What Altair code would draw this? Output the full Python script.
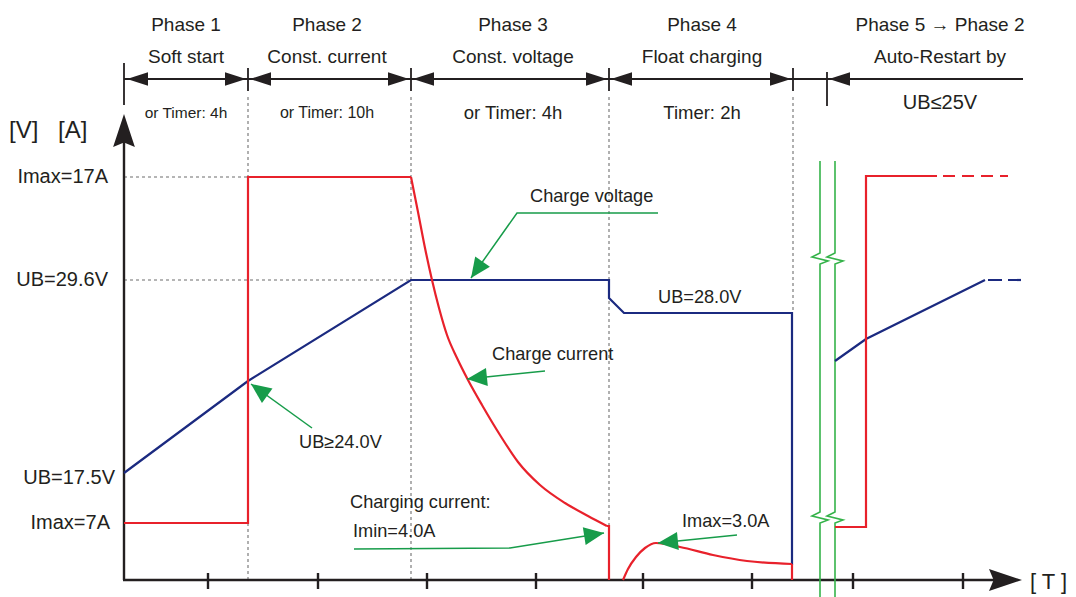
import altair as alt
import numpy as np
import pandas as pd

W, H = 1076, 597
FONT = "Liberation Sans Narrow, Arial Narrow, Liberation Sans, sans-serif"
INK = "#231f20"
RED = "#e8212b"
BLUE = "#1b2a80"
GREEN = "#179c4a"
BREAK_GREEN = "#35b34a"
GRID = "#9d9d9d"

# ---------------- data (diagram units = px grid) ----------------
# charge current (red)
cur_step_x = [124, 248, 248, 411]
cur_step_y = [523, 523, 177, 177]
cur_decay_x = [411, 418, 425, 432, 439, 447, 457, 468, 482, 500, 518, 540, 565, 588, 607]
cur_decay_y = [177, 212, 248, 280, 308, 335, 358, 380, 405, 435, 462, 485, 503, 516, 526]
cur_drop_x = [607, 609, 609]
cur_drop_y = [526, 526, 580]
cur_float_x = [623, 628, 636, 645, 656, 680, 713, 747, 792]
cur_float_y = [580, 569, 557, 548, 543, 547, 555, 561, 564]
cur_float_end_x = [792, 792]
cur_float_end_y = [564, 580]
cur_restart_x = [835, 866, 866, 937]
cur_restart_y = [527, 527, 176, 176]
cur_cont_x = [943, 1008]
cur_cont_y = [176, 176]

# charge voltage (blue)
volt_x = [124, 248, 411, 609, 609, 624, 792, 792]
volt_y = [473, 381, 280, 280, 298, 313, 313, 565]
volt_restart_x = [835, 866, 985]
volt_restart_y = [361, 339, 280]
volt_cont_x = [988, 1021]
volt_cont_y = [280, 280]

# phase header
phase_x = [186, 327, 513, 702, 940]
phase_title = ["Phase 1", "Phase 2", "Phase 3", "Phase 4", "Phase 5 \u2192  Phase 2"]
phase_name = ["Soft start", "Const. current", "Const. voltage", "Float charging", "Auto-Restart by"]
phase_cond = ["or Timer: 4h", "or Timer: 10h", "or Timer: 4h", "Timer: 2h", "UB\u226425V"]
cond_y = [113, 113, 113, 113, 103]
cond_size = [15.5, 16, 18.5, 18.5, 20]

bound_x = [124, 248, 411, 609, 793, 827]
bound_top = [63, 68, 68, 68, 68, 72]
bound_bottom = [105, 91, 91, 91, 91, 106]
marker_y = 79
marker_span = [124, 1023]
marker_tip_x = [127, 246, 250, 409, 413, 607, 611, 791, 829]
marker_dir = [-1, 1, -1, 1, -1, 1, -1, 1, -1]

# dotted guides
guide_vx = [248, 411, 609, 793]
guide_vtop = [97, 97, 97, 97]
guide_vbottom = [580, 580, 580, 313]
guide_hy = [177, 280]
guide_hx0 = [124, 124]
guide_hx1 = [248, 411]

# axes
axis_origin = (124, 580)
yaxis_top = 140
xaxis_end = 995
tick_x = [208, 318, 427, 536, 643, 752, 853, 963]

# labels
lab_text = ["Imax=17A", "UB=29.6V", "UB=17.5V", "Imax=7A"]
lab_x = [108, 108, 115, 110]
lab_y = [177, 280, 478, 523]

ann_text = ["Charge voltage", "Charge current", "UB\u226524.0V", "Charging current:", "Imin=4.0A", "Imax=3.0A", "UB=28.0V"]
ann_x = [530, 492, 299, 350, 353, 682, 658]
ann_y = [197, 355, 443, 503, 532, 522, 298]

unit_text = ["[V]", "[A]", "[ T ]"]
unit_x = [9, 58, 1030]
unit_y = [131, 131, 582]
unit_size = [24, 24, 22]

# green pointer arrows (polyline ending at the tip)
pointer_x = [[658, 517, 471], [545, 467], [312, 251], [354, 510, 604], [737, 658]]
pointer_y = [[213, 213, 278], [371, 379], [428, 384], [549, 548, 533], [535, 543]]

# axis-break marks
break_x = [[820, 820, 812, 828, 820, 820, 812, 828, 820, 820],
           [835, 835, 827, 843, 835, 835, 827, 843, 835, 835]]
break_y = [[161, 253, 257, 261, 264, 512, 516, 520, 523, 597],
           [161, 253, 257, 261, 264, 512, 516, 520, 523, 597]]

# ---------------- helpers ----------------
X = alt.X("x:Q", scale=alt.Scale(domain=[0, W], nice=False, zero=False), axis=None)
Y = alt.Y("y:Q", scale=alt.Scale(domain=[H, 0], nice=False, zero=False), axis=None)


def segs_df(segs):
    rows = []
    for k, (xs, ys) in enumerate(segs):
        for i, (x, y) in enumerate(zip(xs, ys)):
            rows.append({"seg": k, "i": i, "x": x, "y": y})
    return pd.DataFrame(rows)


def lines(segs, color, width, dash=None, interp="linear"):
    kw = dict(color=color, strokeWidth=width, interpolate=interp)
    if dash:
        kw["strokeDash"] = dash
    return alt.Chart(segs_df(segs)).mark_line(**kw).encode(
        x=X, y=Y, detail="seg:N", order="i:Q")


ARROW_TRI = "M0,0L0.32,1L-0.32,1Z"
ARROW_GREEN = "M0,0L0.45,1L-0.45,1Z"
ARROW_AXIS = "M0,0L0.33,1L0,0.86L-0.33,1Z"


def heads(tips, tails, shape, length, color):
    rows = []
    for (tx, ty), (sx, sy) in zip(tips, tails):
        dx, dy = tx - sx, ty - sy
        ang = (np.degrees(np.arctan2(dx, -dy)) + 360) % 360
        rows.append({"x": tx, "y": ty, "angle": float(ang)})
    df = pd.DataFrame(rows)
    return alt.Chart(df).mark_point(
        filled=True, opacity=1, strokeWidth=0, shape=shape,
        size=4 * length * length, color=color
    ).encode(x=X, y=Y, angle=alt.Angle("angle:Q", scale=None))


def texts(xs, ys, labels, sizes, align, color=INK):
    df = pd.DataFrame({"x": xs, "y": ys, "t": labels, "s": sizes})
    return alt.Chart(df).mark_text(
        font=FONT, align=align, baseline="middle", color=color
    ).encode(x=X, y=Y, text="t:N", size=alt.Size("s:Q", scale=None))


layers = []

# dotted guide lines
layers.append(lines(
    [([x, x], [t, b]) for x, t, b in zip(guide_vx, guide_vtop, guide_vbottom)] +
    [([a, b], [y, y]) for y, a, b in zip(guide_hy, guide_hx0, guide_hx1)],
    GRID, 1.6, dash=[3, 3]))

# phase markers
layers.append(lines(
    [([x, x], [t, b]) for x, t, b in zip(bound_x, bound_top, bound_bottom)] +
    [(marker_span, [marker_y, marker_y])],
    INK, 1.8))
layers.append(heads([(x, marker_y) for x in marker_tip_x],
                    [(x - 10 * d, marker_y) for x, d in zip(marker_tip_x, marker_dir)],
                    ARROW_TRI, 21, INK))

# axes
ox, oy = axis_origin
layers.append(lines([([ox, ox], [yaxis_top, oy]), ([ox - 1, xaxis_end], [oy, oy])] +
                    [([x, x], [573, 589]) for x in tick_x], INK, 2.4))
layers.append(heads([(ox, 114), (1022, oy)], [(ox, 140), (990, oy)], ARROW_AXIS, 33, INK))

# axis break marks
layers.append(lines(list(zip(break_x, break_y)), BREAK_GREEN, 1.6))

# voltage
layers.append(lines([(volt_x, volt_y), (volt_restart_x, volt_restart_y)], BLUE, 2.2))
layers.append(lines([(volt_cont_x, volt_cont_y)], BLUE, 2.2, dash=[14, 6]))

# current
layers.append(lines([(cur_step_x, cur_step_y), (cur_drop_x, cur_drop_y),
                     (cur_float_end_x, cur_float_end_y), (cur_restart_x, cur_restart_y)], RED, 2.2))
layers.append(lines([(cur_decay_x, cur_decay_y), (cur_float_x, cur_float_y)], RED, 2.2, interp="monotone"))
layers.append(lines([(cur_cont_x, cur_cont_y)], RED, 2.2, dash=[12, 7]))

# green pointers
layers.append(lines(list(zip(pointer_x, pointer_y)), GREEN, 1.5))
layers.append(heads([(xs[-1], ys[-1]) for xs, ys in zip(pointer_x, pointer_y)],
                    [(xs[-2], ys[-2]) for xs, ys in zip(pointer_x, pointer_y)],
                    ARROW_GREEN, 20, GREEN))

# texts
layers.append(texts(phase_x, [25] * 5, phase_title, [19] * 5, "center"))
layers.append(texts(phase_x, [57] * 5, phase_name, [19] * 5, "center"))
layers.append(texts(phase_x, cond_y, phase_cond, cond_size, "center"))
layers.append(texts(lab_x, lab_y, lab_text, [20] * 4, "right"))
layers.append(texts(ann_x, ann_y, ann_text, [18.2] * len(ann_text), "left"))
layers.append(texts(unit_x, unit_y, unit_text, unit_size, "left"))

chart = alt.layer(*layers).properties(
    width=W, height=H, padding=0,
    autosize=alt.AutoSizeParams(type="none"),
    background="white",
).configure_view(stroke=None)

chart.save("out.html", embed_options={"renderer": "svg", "actions": False})
